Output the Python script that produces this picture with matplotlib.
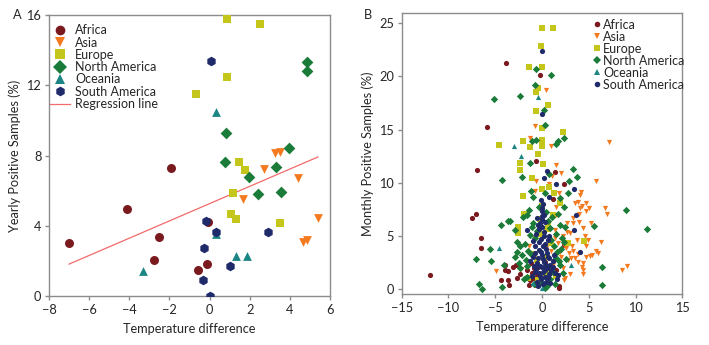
import matplotlib
matplotlib.use("Agg")
import matplotlib.pyplot as plt
from matplotlib.lines import Line2D
import numpy as np

plt.rcParams['font.family'] = ['Lato', 'DejaVu Sans']

continents = ["Africa", "Asia", "Europe", "North America", "Oceania", "South America"]
colors = {"Africa": "#7a1a1f", "Asia": "#f47a20", "Europe": "#c5c61c",
          "North America": "#1b7b38", "Oceania": "#1a8582", "South America": "#1f2a6b"}
markers_a = {"Africa": "o", "Asia": "v", "Europe": "s", "North America": "D",
             "Oceania": "^", "South America": "h"}
markers_b = {"Africa": "o", "Asia": "v", "Europe": "s", "North America": "D",
             "Oceania": "^", "South America": "o"}

# ---------------- Panel A: yearly ----------------
africa_a_x = [-7.0, -4.1, -1.9, -2.5, -2.75, -0.6, -0.15, -0.1]
africa_a_y = [3.0, 4.95, 7.3, 3.35, 2.05, 1.5, 1.85, 4.2]
asia_a_x = [3.25, 3.5, 2.7, 4.4, 1.65, 5.4, 4.65, 4.87]
asia_a_y = [8.15, 8.2, 7.25, 6.7, 5.5, 4.45, 3.1, 3.17]
europe_a_x = [0.85, 2.5, 0.85, -0.7, 1.45, 1.75, 1.15, 1.05, 1.3, 3.5]
europe_a_y = [15.75, 15.5, 12.45, 11.5, 7.65, 7.15, 5.85, 4.65, 4.4, 4.15]
namerica_a_x = [4.85, 4.85, 0.8, 3.95, 0.75, 3.3, 1.95, 2.4, 3.55]
namerica_a_y = [13.3, 12.8, 9.3, 8.45, 7.65, 7.35, 6.75, 5.8, 5.9]
oceania_a_x = [0.3, -3.3, 0.3, 1.3, 1.85]
oceania_a_y = [10.5, 1.45, 3.55, 2.3, 2.25]
samerica_a_x = [0.05, -0.2, 0.3, -0.3, -0.35, 0.0, 1.0, 2.9]
samerica_a_y = [13.4, 4.28, 3.65, 2.75, 0.9, 0.0, 1.7, 3.65]
reg_intercept = 5.26
reg_slope = 0.492
reg_x_range = [-7.0, 5.4]

# ---------------- Panel B: monthly ----------------
africa_b_x = [-12.0, -3.8, -0.2, -5.85, -6.95, -0.65, 1.35, 2.3, 1.2, -7.05, -7.5, -6.5, -6.5,
              -4.0, -3.95, -3.6, -4.4, -3.65, -3.55, -2.7, -3.05, -2.8, -1.1, -1.3, -0.9, -0.5,
              0.3, 1.8, 1.8, 2.4, -0.6, 0.9, 1.5, -1.4, -0.4, -0.95,
              -1.6, -0.8, -1.2, -0.3, 0.5, -2.3]
africa_b_y = [1.3, 21.25, 20.1, 15.2, 11.2, 12.05, 11.0, 9.9, 8.5, 7.1, 6.7, 4.8, 3.9,
              2.25, 1.8, 1.65, 0.8, 0.85, 0.35, 1.0, 2.1, 2.3, 1.5, 0.85, 2.0, 1.2,
              2.5, 0.3, 0.1, 4.15, 0.4, 1.5, 1.8, 0.4, 2.1, 1.0,
              1.8, 1.6, 2.4, 0.6, 1.3, 1.4]
asia_b_x = [-0.7, -1.3, 0.95, 7.15, 0.4, 1.55, 2.05, 1.05, -0.65, 0.8, -0.7, 1.85, 4.05, 3.55,
            3.8, 4.3, 4.7, 1.5, 3.95, 3.35, 1.55, 5.75, 4.15, 6.7, 6.9, 5.0, 4.75, 4.05, 5.2,
            4.55, 4.95, 6.3, 4.75, 5.75, 6.0, 5.4, 5.1, 4.75, 4.4, 4.35, 9.05, 8.6, 2.65, 3.35,
            4.0, 1.4, 1.4, 1.75, 3.55, 3.9, 2.8, 4.25, 4.4, -4.9, -1.4, 2.9, 3.15, 2.2, 3.0,
            2.6, 1.0, 2.2, 3.0, -2.2, 0.7, 2.5, 1.2, 3.7, 3.2, 2.0, 4.4,
            0.9, 1.9, 2.3, 2.7, 3.3, 3.8, 0.4, -0.7, 2.4, 1.7]
asia_b_y = [15.3, 14.2, 13.5, 13.8, 18.7, 11.65, 10.95, 10.65, 10.2, 9.9, 9.25, 9.05, 8.85, 8.05,
            8.15, 7.85, 8.05, 7.75, 7.05, 6.65, 6.95, 10.2, 9.1, 7.65, 7.05, 7.6, 7.3, 7.6, 6.25,
            5.0, 4.6, 4.4, 4.0, 3.6, 3.35, 3.2, 3.1, 3.05, 2.4, 1.8, 2.2, 1.75, 6.2, 6.2,
            6.3, 5.55, 4.75, 4.3, 2.9, 2.55, 2.75, 2.1, 1.45, 1.7, 4.0, 3.35, 2.9, 2.0, 1.4,
            3.9, 3.6, 5.0, 5.3, 1.9, 0.6, 1.0, 2.3, 4.6, 4.0, 3.0, 5.7,
            4.4, 3.5, 4.1, 5.4, 3.6, 3.3, 3.9, 4.8, 0.8, 1.1]
europe_b_x = [0.05, 1.2, -0.15, -1.4, -0.05, -0.45, -0.65, 0.6, -0.6, 0.0, 2.2, -4.65, -2.0,
              -1.25, 0.0, 0.0, -0.4, 0.1, -2.35, -2.35, -1.05, 0.0, 1.3, -2.0, 0.05, -1.9,
              1.9, -2.55, -2.6, 4.5, 2.8, 0.7, 1.0, -0.25, 0.2, -0.5, 0.4, -0.4, 1.5, 0.6,
              -0.9, 0.9, -0.2, 1.2, -1.5, 0.5]
europe_b_y = [24.55, 24.6, 22.85, 20.9, 20.85, 18.9, 18.55, 17.3, 16.75, 15.1, 14.8, 13.55, 13.9,
              13.4, 14.0, 13.45, 12.7, 11.75, 11.9, 11.15, 10.4, 9.4, 9.0, 8.75, 7.8, 7.1,
              8.1, 5.85, 5.25, 4.5, 4.3, 9.6, 4.3, 5.2, 3.0, 2.7, 1.5, 0.8, 1.2, 6.0,
              3.3, 2.0, 6.6, 7.0, 1.0, 5.6]
namerica_b_x = [-0.65, 0.95, -0.7, -5.1, -2.4, 0.2, 0.3, 2.4, 1.75, 1.55, -1.1, -0.65, -1.3,
                -2.15, -4.25, 3.3, 0.7, 2.9, 3.7, -1.2, 0.3, -0.95, 1.9, 2.3, -1.4, -1.55,
                -3.6, -4.4, 1.9, -3.4, -2.9, -1.1, 0.85, 2.45, -2.7, -2.35, -2.7, -2.15, -2.9,
                -5.6, -7.05, -5.5, -6.75, -6.4, -4.25, -4.1, -2.35, -1.55, -1.7, 1.55, 1.9,
                8.95, 11.2, 5.55, 6.45, 6.4, 0.5, 1.0, 1.3, 1.6, 2.0, 0.9, 1.2, 0.4, 0.6,
                -0.5, -0.8, -1.2, 0.0, 2.3,
                -1.8, -1.5, -1.0, 1.5, 2.1, 1.8, 2.2, -1.6, -2.0, -1.3, 1.1, 1.7, -0.3, 2.6,
                1.4, -0.9, -1.9, 0.3, 2.8, -2.5]
namerica_b_y = [20.7, 20.1, 19.2, 17.9, 18.15, 16.85, 15.4, 14.2, 13.95, 13.6, 13.95, 14.0, 11.85,
                10.55, 10.3, 11.3, 10.8, 10.2, 10.55, 9.25, 9.0, 8.65, 8.6, 7.75, 7.45, 7.0,
                6.4, 6.05, 6.0, 6.35, 5.55, 5.85, 5.7, 5.85, 4.45, 4.0, 3.5, 3.2, 3.05,
                3.75, 2.85, 2.65, 0.5, 0.0, 0.15, 2.25, 1.95, 1.15, 2.75, 2.9, 2.25,
                7.45, 5.6, 5.95, 2.05, 0.35, 0.3, 4.6, 4.0, 3.5, 3.8, 0.9, 1.6, 7.2, 6.4,
                5.5, 4.8, 3.3, 0.6, 4.4,
                4.2, 3.6, 6.2, 5.2, 4.8, 2.6, 1.5, 2.2, 6.8, 5.1, 6.8, 7.1, 7.7, 2.8,
                0.5, 0.5, 0.9, 0.1, 9.0, 2.4]
oceania_b_x = [-0.45, -2.95, -2.25, -4.65, 3.1, 0.0, -1.0]
oceania_b_y = [18.05, 13.5, 12.5, 3.85, 2.25, 0.05, 0.6]
samerica_b_x = [0.0, 0.0, 0.5, 0.25, 1.5, 3.4, 0.7, -0.15, 0.05, -0.55, -0.05, 3.6, 4.05, 3.45,
                -1.65, -0.2, -1.0, -0.8, -1.0, 0.8, 1.15, 1.75, 0.0, 0.2, 0.3, 0.5, -0.3, -0.5,
                0.3, -0.2, 0.6, 0.1, -0.7, 1.0, 0.9, -0.4, 0.15, -0.15, 0.05, 0.2, 0.0, 0.0,
                -0.9, 0.4, 1.4, -1.3, 0.6, 1.3,
                -0.6, -0.3, 0.1, 0.4, -0.1, 0.6, -0.4, 0.2, -0.2, 0.5, -0.6, 0.1, 0.7, -0.3,
                0.3, -0.1, 0.4, -0.5, 1.2, 0.9, -1.1, 1.6, 0.2, -0.4, 0.3, 0.0, 0.1, -0.3,
                0.7, -0.7]
samerica_b_y = [22.35, 16.45, 11.1, 10.4, 9.9, 9.45, 8.7, 8.4, 7.3, 6.7, 6.6, 6.95, 3.45, 5.55,
                5.55, 6.2, 4.55, 4.0, 3.05, 2.9, 2.1, 1.3, 2.1, 5.0, 4.2, 3.4, 3.7, 2.4,
                1.8, 1.2, 1.0, 0.5, 1.6, 1.8, 0.6, 0.3, 2.8, 4.7, 5.8, 7.0, 6.9, 3.2,
                2.2, 2.3, 1.5, 2.6, 4.6, 3.2,
                5.2, 4.4, 4.0, 3.8, 3.5, 3.0, 2.9, 2.5, 2.2, 2.0, 1.9, 1.6, 1.4, 1.5,
                1.1, 0.9, 0.7, 0.7, 2.6, 2.3, 1.2, 0.9, 5.4, 6.0, 6.3, 7.6, 8.0, 5.6,
                5.0, 3.4]

data_a = {
    "Africa": (africa_a_x, africa_a_y),
    "Asia": (asia_a_x, asia_a_y),
    "Europe": (europe_a_x, europe_a_y),
    "North America": (namerica_a_x, namerica_a_y),
    "Oceania": (oceania_a_x, oceania_a_y),
    "South America": (samerica_a_x, samerica_a_y),
}
data_b = {
    "Africa": (africa_b_x, africa_b_y),
    "Asia": (asia_b_x, asia_b_y),
    "Europe": (europe_b_x, europe_b_y),
    "North America": (namerica_b_x, namerica_b_y),
    "Oceania": (oceania_b_x, oceania_b_y),
    "South America": (samerica_b_x, samerica_b_y),
}

fig = plt.figure(figsize=(7.09, 3.45), dpi=100)
axA = fig.add_axes([0.0691, 0.142, 0.3963, 0.8145])
axB = fig.add_axes([0.5666, 0.147, 0.3957, 0.8163])

spine_col = "#8c8c8c"
text_col = "#262626"
FS = 9.2
LFS = 9.0

def style(ax):
    for s in ax.spines.values():
        s.set_color(spine_col)
        s.set_linewidth(1.0)
    ax.tick_params(direction="out", length=3, width=1.0, color=spine_col,
                   labelsize=9.2, labelcolor=text_col, pad=2.5)

sizes_a = {"Africa": 42, "Asia": 40, "Europe": 40, "North America": 36, "Oceania": 40, "South America": 48}
for c in continents:
    x, y = data_a[c]
    axA.scatter(x, y, s=sizes_a[c], marker=markers_a[c], color=colors[c], linewidths=0,
                label=c, zorder=3)
rx = np.array(reg_x_range)
axA.plot(rx, reg_intercept + reg_slope * rx, color="#f26a6a", lw=0.9, zorder=2)
axA.set_xlim(-8, 6)
axA.set_ylim(0, 16)
axA.set_xticks(np.arange(-8, 7, 2))
axA.set_yticks(np.arange(0, 17, 4))
axA.set_xlabel("Temperature difference", fontsize=FS, color=text_col, labelpad=5)
axA.set_ylabel("Yearly Positive Samples (%)", fontsize=FS, color=text_col, labelpad=4)
style(axA)
handlesA = [Line2D([], [], marker=markers_a[c], color=colors[c], ls="none", markersize=7,
                   markeredgewidth=0) for c in continents]
handlesA.append(Line2D([], [], color="#f26a6a", lw=0.9))
legA = axA.legend(handlesA, continents + ["Regression line"], loc="upper left",
                  bbox_to_anchor=(-0.0142, 0.985), frameon=False, fontsize=LFS,
                  handlelength=1.6, handletextpad=0.4, labelspacing=0.025, borderaxespad=0,
                  borderpad=0.4)
for t in legA.get_texts():
    t.set_color(text_col)

for c in continents:
    x, y = data_b[c]
    axB.scatter(x, y, s=14, marker=markers_b[c], color=colors[c], linewidths=0, label=c, zorder=3)
axB.set_xlim(-15, 15)
axB.set_ylim(-0.5, 26)
axB.set_xticks(np.arange(-15, 16, 5))
axB.set_yticks(np.arange(0, 26, 5))
axB.set_xlabel("Temperature difference", fontsize=FS, color=text_col, labelpad=5)
axB.set_ylabel("Monthly Positive Samples (%)", fontsize=FS, color=text_col, labelpad=4)
style(axB)
handlesB = [Line2D([], [], marker=markers_b[c], color=colors[c], ls="none", markersize=4,
                   markeredgewidth=0) for c in continents]
legB = axB.legend(handlesB, continents, loc="upper left", bbox_to_anchor=(0.6675, 0.997),
                  frameon=False, fontsize=LFS, handlelength=0.48, handletextpad=0.24,
                  labelspacing=0.0, borderaxespad=0, borderpad=0.4)
for t in legB.get_texts():
    t.set_color(text_col)

fig.text(13 / 709, 1 - 15 / 345, "A", fontsize=FS, color=text_col, va="center", ha="left")
fig.text(364 / 709, 1 - 15 / 345, "B", fontsize=FS, color=text_col, va="center", ha="left")

fig.savefig("out.png", dpi=100)
